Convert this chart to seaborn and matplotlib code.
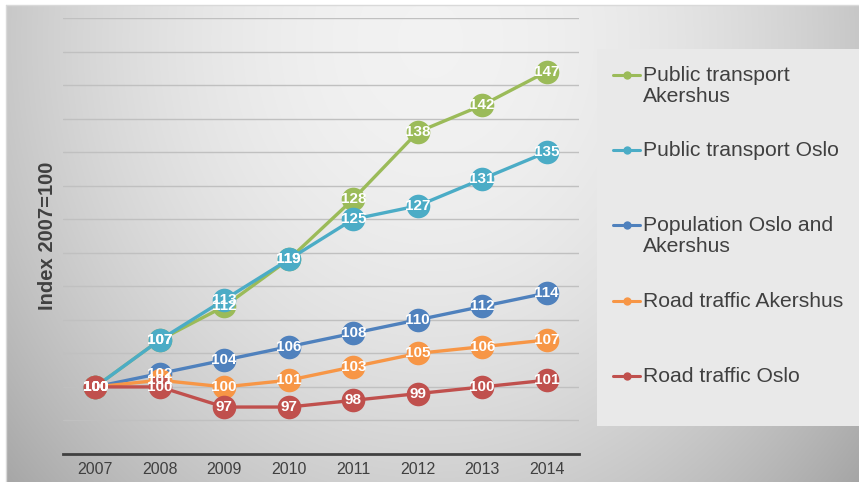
import numpy as np
import pandas as pd
import seaborn as sns
import matplotlib.pyplot as plt
from matplotlib.patches import Rectangle

# --- datos ---
years = [2007, 2008, 2009, 2010, 2011, 2012, 2013, 2014]
pt_akershus = [100, 107, 112, 119, 128, 138, 142, 147]
pt_oslo = [100, 107, 113, 119, 125, 127, 131, 135]
population = [100, 102, 104, 106, 108, 110, 112, 114]
road_akershus = [100, 101, 100, 101, 103, 105, 106, 107]
road_oslo = [100, 100, 97, 97, 98, 99, 100, 101]

series_names = ["Public transport Akershus", "Public transport Oslo",
                "Population Oslo and Akershus", "Road traffic Akershus",
                "Road traffic Oslo"]
legend_labels = ["Public transport\nAkershus", "Public transport Oslo",
                 "Population Oslo and\nAkershus", "Road traffic Akershus",
                 "Road traffic Oslo"]
colors = ["#9BBB59", "#4BACC6", "#4F81BD", "#F79646", "#C0504D"]

valores = [pt_akershus, pt_oslo, population, road_akershus, road_oslo]
df = pd.DataFrame({
    "year": years * len(series_names),
    "serie": [n for n in series_names for _ in years],
    "index": [v for vals in valores for v in vals],
})

sns.set_theme(style="white")
plt.rcParams['font.family'] = ['Liberation Sans', 'DejaVu Sans']

W, H = 859, 482
fig = plt.figure(figsize=(W / 100, H / 100), dpi=100)

# --- fondo degradado ---
bg = fig.add_axes([0, 0, 1, 1])
yy, xx = np.mgrid[0:H, 0:W]
r = np.sqrt(((xx - 430) / 430.0) ** 2 + ((yy - 40) / 500.0) ** 2)
val = 0.95 - 0.17 * r ** 2
val[:5, :] = 1.0
val[:, :6] = 1.0
img = np.dstack([val, val, val]).clip(0, 1)
bg.imshow(img, extent=[0, W, H, 0], aspect='auto')
bg.set_xlim(0, W)
bg.set_ylim(H, 0)
bg.plot([6, W], [5, 5], color="#d9d9d9", lw=1)
bg.plot([6, 6], [5, H], color="#d9d9d9", lw=1)
bg.add_patch(Rectangle((597, 49), W - 597, 377, facecolor="#e9e9e9", edgecolor="none"))
bg.axis('off')

# --- leyenda manual ---
leg_y = [75, 150, 225, 301, 376]
for lab, col, y in zip(legend_labels, colors, leg_y):
    bg.plot([613, 640], [y, y], color=col, lw=2.2)
    bg.plot([627], [y], marker='o', color=col, markersize=6, mec='none')
    bg.text(643, y - 9, lab, fontsize=15.2, color="#404040", va='top',
            linespacing=1.13)

# --- grafica principal ---
ax = fig.add_axes([63 / W, (H - 454) / H, (579 - 63) / W, (454 - 18) / H])
ax.patch.set_alpha(0)
ax.set_ylim(90, 155)
ax.set_xlim(2006.5, 2014.5)
ax.set_yticks(np.arange(95, 156, 5))
ax.yaxis.grid(True, color="#c0c0c0", lw=1)
ax.set_axisbelow(True)

sns.lineplot(data=df, x="year", y="index", hue="serie", hue_order=series_names,
             palette=colors, marker='o', markersize=17, mec='none',
             linewidth=2.4, legend=False, ax=ax)

for vals in valores:
    for x, v in zip(years, vals):
        ax.text(x, v, f"{v}", ha='center', va='center', fontsize=11,
                fontweight='bold', color='white', zorder=10)

ax.set_xticks(years)
ax.set_xticklabels([str(y) for y in years], fontsize=11.5, color="#404040")
ax.tick_params(axis='y', left=False, labelleft=False)
ax.tick_params(axis='x', length=0, pad=6)
ax.set_xlabel("")
ax.set_ylabel("Index 2007=100", fontsize=14.5, fontweight='bold', color="#404040")
ax.yaxis.set_label_coords(-0.012, 0.5)
for s in ["top", "right", "left"]:
    ax.spines[s].set_visible(False)
ax.spines["bottom"].set_color("#404040")
ax.spines["bottom"].set_linewidth(2)

plt.savefig("out.png", dpi=100)
